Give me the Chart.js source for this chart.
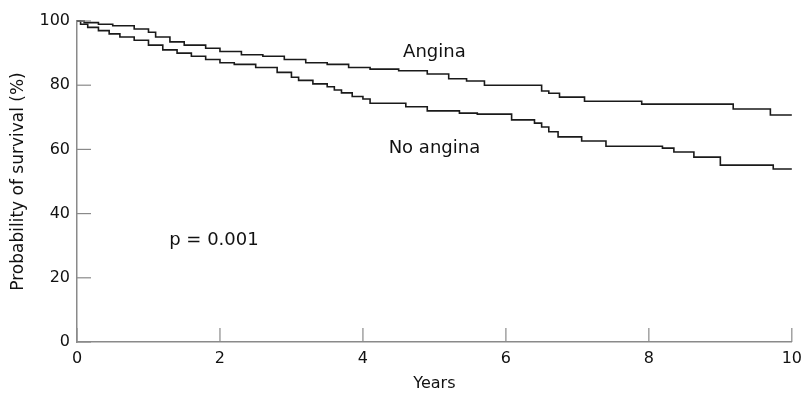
<!DOCTYPE html>
<html>
<head>
<meta charset="utf-8">
<script src="https://cdn.jsdelivr.net/npm/chart.js@4/dist/chart.umd.min.js"></script>
<style>
  html, body { margin: 0; padding: 0; background: #fff; }
  #wrap { width: 809px; height: 394px; }
</style>
</head>
<body>
<div id="wrap"><canvas id="km"></canvas></div>
<script>
// Kaplan-Meier steps (years, % surviving)
const anginaYears = [0, 0.1, 0.3, 0.5, 0.8, 1.0, 1.1, 1.3, 1.5, 1.8, 2.0, 2.3, 2.6, 2.9, 3.2, 3.5, 3.8, 4.1, 4.5, 4.9, 5.2, 5.45, 5.7, 6.5, 6.6, 6.75, 7.1, 7.9, 9.18, 9.7, 10];
const anginaSurv  = [100, 99.5, 99, 98.5, 97.5, 96.5, 95, 93.5, 92.5, 91.5, 90.5, 89.5, 89, 88, 87, 86.5, 85.5, 85, 84.5, 83.5, 82, 81.3, 80, 78.2, 77.5, 76.3, 75, 74.1, 72.6, 70.7, 70.7];

const noAnginaYears = [0, 0.05, 0.15, 0.3, 0.45, 0.6, 0.8, 1.0, 1.2, 1.4, 1.6, 1.8, 2.0, 2.2, 2.5, 2.8, 3.0, 3.1, 3.3, 3.5, 3.6, 3.7, 3.85, 4.0, 4.1, 4.6, 4.9, 5.35, 5.6, 6.08, 6.4, 6.5, 6.6, 6.73, 7.06, 7.4, 8.19, 8.35, 8.63, 9.0, 9.74, 10];
const noAnginaSurv  = [100, 99, 98, 97, 96, 95, 94, 92.5, 91, 90, 89, 88, 87, 86.5, 85.5, 84, 82.5, 81.5, 80.4, 79.5, 78.5, 77.6, 76.5, 75.7, 74.4, 73.3, 72, 71.3, 71, 69.2, 68.2, 67, 65.5, 63.9, 62.6, 61, 60.4, 59.2, 57.6, 55.1, 53.9, 53.9];

const xTicks = [0, 2, 4, 6, 8, 10];
const yTicks = [0, 20, 40, 60, 80, 100];

// text labels placed in data units
const notes = [
  { text: 'Angina', x: 5.0, y: 90.3, align: 'center' },
  { text: 'No angina', x: 5.0, y: 60.4, align: 'center' },
  { text: 'p = 0.001', x: 1.29, y: 31.8, align: 'left' }
];

const FONT = "'DejaVu Sans', sans-serif";
const AXIS_GREY = '#8a8a8a';

function pts(xs, ys) {
  return xs.map((x, i) => ({ x: x, y: ys[i] }));
}

// tick marks drawn inward, plus the in-plot text
const innerTicks = {
  id: 'innerTicks',
  afterDraw(chart) {
    const ctx = chart.ctx;
    const xs = chart.scales.x, ys = chart.scales.y;
    const area = chart.chartArea;
    ctx.save();
    ctx.strokeStyle = AXIS_GREY;
    ctx.lineWidth = 1.2;
    xTicks.forEach(v => {
      let px = xs.getPixelForValue(v);
      ctx.beginPath();
      ctx.moveTo(px, area.bottom);
      ctx.lineTo(px, area.bottom - 14);
      ctx.stroke();
    });
    yTicks.forEach(v => {
      let py = ys.getPixelForValue(v);
      ctx.beginPath();
      ctx.moveTo(area.left, py);
      ctx.lineTo(area.left + 14, py);
      ctx.stroke();
    });
    ctx.fillStyle = '#111';
    ctx.font = '18px ' + FONT;
    ctx.textBaseline = 'middle';
    notes.forEach(n => {
      ctx.textAlign = n.align;
      ctx.fillText(n.text, xs.getPixelForValue(n.x), ys.getPixelForValue(n.y));
    });
    ctx.restore();
  }
};

let ctx = document.getElementById('km').getContext('2d');

let chart = new Chart(ctx, {
  type: 'line',
  data: {
    datasets: [
      {
        label: 'Angina',
        data: pts(anginaYears, anginaSurv),
        borderColor: '#1a1a1a',
        borderWidth: 1.6,
        stepped: 'before',
        pointRadius: 0,
        fill: false,
        clip: false
      },
      {
        label: 'No angina',
        data: pts(noAnginaYears, noAnginaSurv),
        borderColor: '#1a1a1a',
        borderWidth: 1.6,
        stepped: 'before',
        pointRadius: 0,
        fill: false,
        clip: false
      }
    ]
  },
  options: {
    responsive: true,
    maintainAspectRatio: false,
    animation: false,
    layout: { padding: { left: 0, right: 12, top: 21, bottom: 0 } },
    plugins: {
      legend: { display: false },
      tooltip: { enabled: false }
    },
    scales: {
      x: {
        type: 'linear',
        min: 0,
        max: 10,
        afterBuildTicks: (s) => { s.ticks = xTicks.map(v => ({ value: v })); },
        afterFit: (s) => { s.height = 52; },
        grid: { display: false, drawTicks: false },
        border: { display: true, color: AXIS_GREY, width: 1.5 },
        ticks: { color: '#111', font: { family: FONT, size: 16 }, padding: 7, maxRotation: 0 },
        title: {
          display: true,
          text: 'Years',
          color: '#111',
          font: { family: FONT, size: 16 },
          padding: { top: 0, bottom: 1 }
        }
      },
      y: {
        min: 0,
        max: 100,
        afterBuildTicks: (s) => { s.ticks = yTicks.map(v => ({ value: v })); },
        afterFit: (s) => { s.width = 77; },
        grid: { display: false, drawTicks: false },
        border: { display: true, color: AXIS_GREY, width: 1.5 },
        ticks: { color: '#111', font: { family: FONT, size: 16 }, padding: 7 },
        title: {
          display: true,
          text: 'Probability of survival (%)',
          color: '#111',
          font: { family: FONT, size: 17 },
          padding: { top: 8, bottom: 0 }
        }
      }
    }
  },
  plugins: [innerTicks]
});
</script>
</body>
</html>
